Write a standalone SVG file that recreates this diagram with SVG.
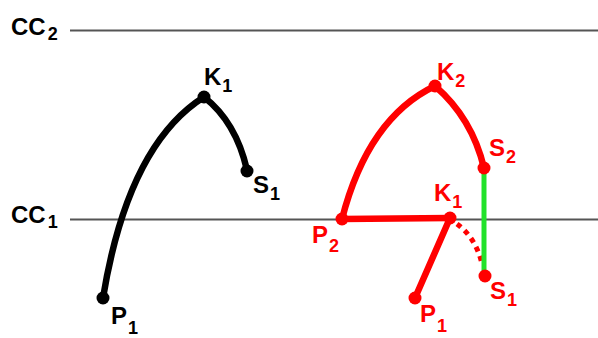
<svg xmlns="http://www.w3.org/2000/svg" width="598" height="338" viewBox="0 0 598 338">
<style>
.lbl{font-family:"Liberation Sans",Arial,sans-serif;font-weight:bold;font-size:24px}
.sub{font-size:18px}
.blk{fill:#000}
.red{fill:#f00}
.ref{stroke:#555;stroke-width:2;fill:none}
.cb{stroke:#000;stroke-width:6.5;fill:none;stroke-linecap:round}
.cr{stroke:#f00;stroke-width:6.5;fill:none;stroke-linecap:round}
</style>
<rect width="598" height="338" fill="#fff"/>
<g id="levels">
<line class="ref" x1="70" y1="30.5" x2="598" y2="30.5"/>
<line class="ref" x1="70" y1="219.5" x2="598" y2="219.5"/>
<text class="lbl blk" x="11" y="35">CC<tspan class="sub" dx="2" dy="5">2</tspan></text>
<text class="lbl blk" x="11" y="223">CC<tspan class="sub" dx="2" dy="5">1</tspan></text>
</g>
<g id="connectors">
<path class="cb" d="M103,298 Q128,145 204,97"/>
<path class="cb" d="M204,97 Q236,122 247,170"/>
<path class="cr" d="M342,219 Q368,118 435,86"/>
<path class="cr" d="M435,86 Q472,118 484,168"/>
<line class="cr" x1="342" y1="219" x2="450" y2="218"/>
<line class="cr" x1="450" y1="218" x2="415" y2="298"/>
<path d="M457,224 Q476,238 482,264" stroke="#f00" stroke-width="5" fill="none" stroke-dasharray="5,5"/>
<line x1="484" y1="170" x2="484" y2="271" stroke="#22e22a" stroke-width="5"/>
</g>
<g id="K1_black"><circle cx="204" cy="97" r="6.5" fill="#000"/><text class="lbl blk" x="204" y="85">K<tspan class="sub" dx="1" dy="7">1</tspan></text></g>
<g id="S1_black"><circle cx="247" cy="171" r="6.5" fill="#000"/><text class="lbl blk" x="253" y="193">S<tspan class="sub" dx="1" dy="7">1</tspan></text></g>
<g id="P1_black"><circle cx="103" cy="298" r="6.5" fill="#000"/><text class="lbl blk" x="111" y="324">P<tspan class="sub" dx="1" dy="10">1</tspan></text></g>
<g id="K2_red"><circle cx="435" cy="86" r="6.5" fill="#f00"/><text class="lbl red" x="437" y="80">K<tspan class="sub" dx="1" dy="7">2</tspan></text></g>
<g id="S2_red"><circle cx="484" cy="168" r="6.5" fill="#f00"/><text class="lbl red" x="489" y="156">S<tspan class="sub" dx="1" dy="7">2</tspan></text></g>
<g id="P2_red"><circle cx="342" cy="219" r="6.5" fill="#f00"/><text class="lbl red" x="312" y="243">P<tspan class="sub" dx="1" dy="9">2</tspan></text></g>
<g id="K1_red"><circle cx="450" cy="218" r="6.5" fill="#f00"/><text class="lbl red" x="434" y="201">K<tspan class="sub" dx="1" dy="7">1</tspan></text></g>
<g id="P1_red"><circle cx="415" cy="298" r="6.5" fill="#f00"/><text class="lbl red" x="420" y="322">P<tspan class="sub" dx="1" dy="10">1</tspan></text></g>
<g id="S1_red"><circle cx="485" cy="276" r="6.5" fill="#f00"/><text class="lbl red" x="490" y="299">S<tspan class="sub" dx="1" dy="7">1</tspan></text></g>
</svg>
